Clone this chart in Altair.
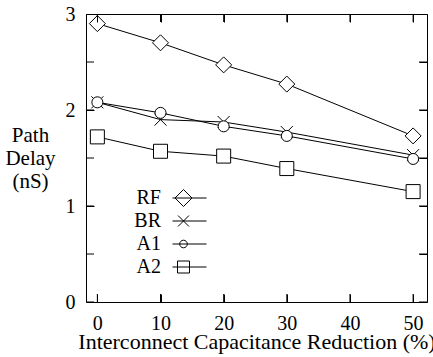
import altair as alt
import pandas as pd

# ---- data ----
x_vals = [0, 10, 20, 30, 50]
series_names = ["RF", "BR", "A1", "A2"]
rf = [2.90, 2.70, 2.47, 2.27, 1.73]
br = [2.08, 1.90, 1.875, 1.77, 1.53]
a1 = [2.08, 1.97, 1.83, 1.73, 1.49]
a2 = [1.72, 1.57, 1.52, 1.39, 1.15]
x_ticks = [0, 10, 20, 30, 40, 50]
y_minor_ticks = [0, 0.5, 1, 1.5, 2, 2.5, 3]
x_domain = [-1.8, 52.2]
y_domain = [0, 3]

rows = []
for name, vals in zip(series_names, [rf, br, a1, a2]):
    for xv, yv in zip(x_vals, vals):
        rows.append({"x": xv, "y": yv, "series": name})
df = pd.DataFrame(rows)

# tick positions on the frame edges (axis limits)
vt = pd.DataFrame([{"x": t, "y": e} for e in y_domain for t in x_ticks])
ht = pd.DataFrame([{"y": t, "x": e} for e in x_domain for t in y_minor_ticks])

FONT = "Liberation Serif"
W, H = 341, 288
INWARD = alt.ExprRef(expr="-8")  # inward tick length

# marker paths (unit box -1..1)
plot_shapes = [
    "M-1,0L0,-1L1,0L0,1Z",
    "M-0.75,-0.75L0.75,0.75M-0.75,0.75L0.75,-0.75",
    "M0.69,0A0.69,0.69,0,1,1,-0.69,0A0.69,0.69,0,1,1,0.69,0Z",
    "M-0.875,-0.875L0.875,-0.875L0.875,0.875L-0.875,0.875Z",
]
# legend symbols: a line with the marker left of centre
legend_shapes = [
    "M-1.7,0L1.7,0M-1.45,0L-0.6,-0.85L0.25,0L-0.6,0.85Z",
    "M-1.7,0L1.7,0M-1.15,-0.55L-0.05,0.55M-1.15,0.55L-0.05,-0.55",
    "M-1.7,0L1.7,0M-0.22,0A0.38,0.38,0,1,1,-0.98,0A0.38,0.38,0,1,1,-0.22,0Z",
    "M-1.7,0L1.7,0M-1.2,-0.6L0,-0.6L0,0.6L-1.2,0.6Z",
]

xscale = alt.Scale(domain=x_domain, nice=False, zero=False)
yscale = alt.Scale(domain=y_domain, nice=False)

lines = alt.Chart(df).mark_line(color="black", strokeWidth=1).encode(
    x=alt.X("x:Q", scale=xscale, axis=alt.Axis(
        orient="bottom", values=x_ticks, format="d", ticks=True, tickSize=INWARD,
        tickColor="black", tickWidth=1, domain=False, grid=False, zindex=1,
        labelFont=FONT, labelFontSize=20, labelColor="black", labelPadding=19,
        title="Interconnect Capacitance Reduction (%)", titleFont=FONT,
        titleFontSize=22, titleFontWeight="normal", titleColor="black",
        titleBaseline="alphabetic", titleY=46, titleLimit=600)),
    y=alt.Y("y:Q", scale=yscale, axis=alt.Axis(
        orient="left", values=y_minor_ticks, format="d",
        labelExpr="datum.value % 1 == 0 ? datum.label : ''",
        ticks=True, tickSize=INWARD, tickColor="black", tickWidth=1, zindex=1,
        domain=False, grid=False, labelFont=FONT, labelFontSize=20, labelColor="black",
        labelPadding=19,
        title=["Path", "Delay", "(nS)"], titleFont=FONT, titleFontSize=21,
        titleFontWeight="normal", titleColor="black", titleAngle=0,
        titleAlign="center", titleBaseline="top", titleX=-56, titleY=110,
        titleLineHeight=23)),
    detail="series:N",
)

# inward ticks drawn as clipped tick marks on all four edges
vticks = alt.Chart(vt).mark_tick(orient="vertical", size=16, thickness=1, color="black",
                                 clip=True, opacity=1).encode(
    x=alt.X("x:Q", scale=xscale, axis=None),
    y=alt.Y("y:Q", scale=yscale, axis=None),
)
hticks = alt.Chart(ht).mark_tick(orient="horizontal", size=16, thickness=1, color="black",
                                 clip=True, opacity=1).encode(
    x=alt.X("x:Q", scale=xscale, axis=None),
    y=alt.Y("y:Q", scale=yscale, axis=None),
)

points = alt.Chart(df).mark_point(
    fill="white", stroke="black", strokeWidth=1, fillOpacity=1, opacity=1, size=256
).encode(
    x=alt.X("x:Q", scale=xscale, axis=alt.Axis(
        orient="top", values=x_ticks, labels=False, domain=False, grid=False, title=None,
        ticks=True, tickSize=INWARD, tickColor="black", tickWidth=1, zindex=1)),
    y=alt.Y("y:Q", scale=yscale, axis=alt.Axis(
        orient="right", values=y_minor_ticks, labels=False, domain=False, grid=False,
        title=None, ticks=True, tickSize=INWARD, tickColor="black", tickWidth=1, zindex=1)),
    shape=alt.Shape("series:N", scale=alt.Scale(domain=series_names, range=plot_shapes), legend=None),
)

legend_layer = alt.Chart(df).transform_filter("false").mark_point(
    stroke="black", strokeWidth=1, size=400
).encode(
    x=alt.X("x:Q", scale=xscale, axis=None),
    y=alt.Y("y:Q", scale=yscale, axis=None),
    shape=alt.Shape("series:N", scale=alt.Scale(domain=series_names, range=legend_shapes),
                    legend=alt.Legend(
                        orient="none", legendX=93, legendY=173.5, title=None,
                        labelFont=FONT, labelFontSize=20, labelColor="black",
                        labelAlign="right", labelOffset=alt.ExprRef(expr="-39"),
                        symbolOffset=0, symbolSize=400, symbolStrokeColor="black",
                        symbolStrokeWidth=1, symbolFillColor="transparent",
                        symbolOpacity=1, rowPadding=2)),
)

chart = alt.layer(lines, vticks, hticks, points, legend_layer).resolve_scale(
    shape="independent"
).resolve_axis(x="independent", y="independent").properties(
    width=W, height=H,
    padding={"left": 86, "top": 14, "right": 6, "bottom": 55},
    autosize=alt.AutoSizeParams(type="none"),
).configure_view(stroke="black", strokeWidth=1)

chart.save("out.html", embed_options={"renderer": "svg", "actions": False})
